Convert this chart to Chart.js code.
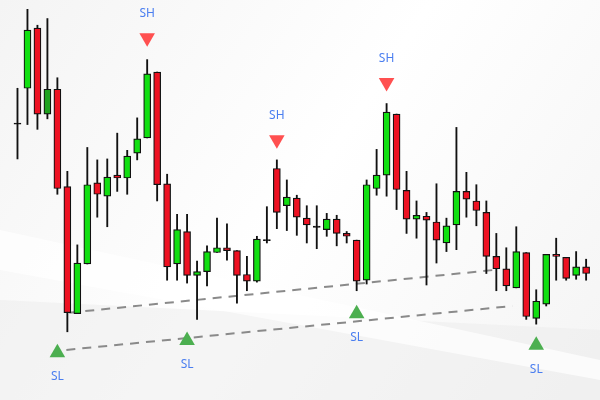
<!DOCTYPE html>
<html><head><meta charset="utf-8">
<script src="https://cdn.jsdelivr.net/npm/chart.js@4"></script>
<style>html,body{margin:0;padding:0;background:#fff}#w{width:600px;height:400px}</style>
</head><body><div id="w"><canvas id="c"></canvas></div>
<script>
// values on a downward price scale (axis reversed)
const opens  = [120,83,20,110,84,186,319,267,182,196,174,177,151,135,66,183,267,233,279,275,255,250,253,278,285,242,167,206,198,
                219,228,231,220,235,242,284,188,174,110,190,220,217,223,245,226,191,201,213,259,272,292,255,324,309,257,260,279,270];
const closes = [120,22,110,84,188,318,266,184,194,176,177,154,136,68,184,270,231,279,275,254,250,253,279,285,241,242,213,197,218,
                226,228,220,235,238,285,184,174,108,189,220,216,221,242,227,191,199,211,259,272,290,254,322,306,257,259,282,270,277];
const highs  = [83,0,17,10,72,170,247,145,158,157,130,148,114,53,66,173,215,215,264,248,219,225,253,259,238,207,158,179,195,
                206,206,214,216,233,242,179,147,99,110,170,201,213,183,219,124,171,184,201,235,250,228,255,294,257,240,260,254,262];
const lows   = [157,121,126,115,194,338,319,267,218,228,191,194,158,135,201,284,284,287,325,290,255,263,308,295,286,245,230,232,237,
                245,251,238,248,245,295,288,195,196,210,235,240,289,266,254,252,218,227,277,295,295,292,325,330,311,284,284,283,284];
const swingHighs = [{x:13,y:30},{x:26,y:137},{x:37,y:77}];
const swingLows  = [{x:4,y:360},{x:17,y:347},{x:34,y:319},{x:52,y:352}];
const trendUpper = [{x:5.2,y:318},{x:48,y:273}];
const trendLower = [{x:4.9,y:357},{x:49.6,y:311}];
const darkGreen = [3];
const X_MIN = -0.85, X_MAX = 57.49;

const idx = opens.map((_,i)=>i);
const bodyData = idx.map(i=>{const a=opens[i],b=closes[i];return {x:i,y:a===b?[a-0.6,a+0.6]:[a,b]};});
const wickData = idx.map(i=>({x:i,y:[highs[i],lows[i]]}));
const bodyColors = idx.map(i=>darkGreen.includes(i)?'#1fa31f':(closes[i]<opens[i]?'#11e011':(closes[i]===opens[i]?'#000':'#ee1122')));

const bg = {id:'bg',beforeDraw(ch){const c=ch.ctx;c.save();
  const g=c.createLinearGradient(0,0,600,400);g.addColorStop(0,'#f4f4f4');g.addColorStop(0.5,'#ffffff');g.addColorStop(1,'#f4f4f4');
  c.fillStyle=g;c.fillRect(0,0,600,400);
  c.fillStyle='rgba(236,236,236,0.5)';
  c.beginPath();c.moveTo(0,300);c.lineTo(600,330);c.lineTo(600,400);c.lineTo(0,400);c.fill();
  c.fillStyle='rgba(255,255,255,0.7)';
  c.beginPath();c.moveTo(0,230);c.lineTo(600,360);c.lineTo(600,380);c.lineTo(0,270);c.fill();
  c.restore();}};
const labels = {id:'labels',afterDatasetsDraw(ch){const c=ch.ctx,xs=ch.scales.x,ys=ch.scales.y;c.save();
  c.font='12px "Noto Sans", sans-serif';c.fillStyle='#4a7ef0';c.textAlign='center';c.textBaseline='middle';
  swingHighs.forEach(p=>c.fillText('SH',xs.getPixelForValue(p.x),ys.getPixelForValue(p.y)-24));
  swingLows.forEach(p=>c.fillText('SL',xs.getPixelForValue(p.x),ys.getPixelForValue(p.y)+24));
  c.restore();}};

new Chart(document.getElementById('c'),{
  data:{datasets:[
    {type:'line',data:trendUpper,borderColor:'#8a8a8a',borderWidth:2,borderDash:[9,7],pointRadius:0,order:5},
    {type:'line',data:trendLower,borderColor:'#8a8a8a',borderWidth:2,borderDash:[9,7],pointRadius:0,order:5},
    {type:'bar',data:wickData,backgroundColor:'#111',barThickness:1.2,grouped:false,order:3},
    {type:'bar',data:bodyData,backgroundColor:bodyColors,borderColor:'#111',borderWidth:1.2,borderSkipped:false,barThickness:7,grouped:false,order:2},
    {type:'scatter',data:swingHighs,pointStyle:'triangle',rotation:180,radius:9,backgroundColor:'#ff5050',borderWidth:0,order:1},
    {type:'scatter',data:swingLows,pointStyle:'triangle',radius:9,backgroundColor:'#4caf50',borderWidth:0,order:1}
  ]},
  options:{responsive:true,maintainAspectRatio:false,animation:false,
    layout:{padding:0},
    plugins:{legend:{display:false},tooltip:{enabled:false}},
    scales:{x:{type:'linear',min:X_MIN,max:X_MAX,offset:false,grace:0,display:false,
               afterDataLimits(s){s.min=X_MIN;s.max=X_MAX;},
               afterBuildTicks(s){s.ticks=[{value:X_MIN},{value:X_MAX}];},
               afterFit(s){s.paddingLeft=0;s.paddingRight=0;}},
            y:{type:'linear',min:0,max:400,reverse:true,display:false}}},
  plugins:[bg,labels]
});
</script></body></html>
